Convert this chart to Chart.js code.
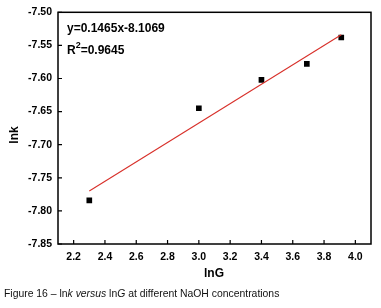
<!DOCTYPE html>
<html>
<head>
<meta charset="utf-8">
<script src="https://cdn.jsdelivr.net/npm/chart.js@4"></script>
<style>
  body { margin: 0; background: #fff; }
  #wrap { position: relative; width: 381px; height: 308px; }
  #caption {
    position: absolute; left: 4px; top: 288px;
    font: 10.4px "Liberation Sans", Arial, sans-serif; color: #111; white-space: nowrap;
  }
</style>
</head>
<body>
<div id="wrap">
  <canvas id="fig" width="381" height="308"></canvas>
  <div id="caption">Figure 16 – ln<i>k versus</i> ln<i>G</i> at different NaOH concentrations</div>
</div>
<script>
// measured points (lnG, lnk)
const lnG = [2.30, 3.00, 3.40, 3.69, 3.91];
const lnk = [-7.784, -7.645, -7.602, -7.578, -7.538];

// linear fit end points
const fitX = [2.30, 3.91];
const fitY = [-7.770, -7.534];

const xTicks = [2.2, 2.4, 2.6, 2.8, 3.0, 3.2, 3.4, 3.6, 3.8, 4.0];
const yTicks = [-7.50, -7.55, -7.60, -7.65, -7.70, -7.75, -7.80, -7.85];

const fitLabel = "y=0.1465x-8.1069";
const r2Label = "=0.9645";

const FONT = '"Liberation Sans", Arial, sans-serif';

const frame = {
    id: "frame",
    afterDraw(chart) {
        const { ctx, chartArea: a, scales } = chart;
        ctx.save();
        ctx.strokeStyle = "#000";
        ctx.lineWidth = 1.5;
        ctx.strokeRect(a.left, a.top, a.right - a.left, a.bottom - a.top);

        // inward ticks
        ctx.lineWidth = 1.2;
        ctx.beginPath();
        xTicks.forEach(v => {
            const x = scales.x.getPixelForValue(v);
            ctx.moveTo(x, a.bottom);
            ctx.lineTo(x, a.bottom - 4);
        });
        yTicks.forEach(v => {
            const y = scales.y.getPixelForValue(v);
            ctx.moveTo(a.left, y);
            ctx.lineTo(a.left + 4, y);
        });
        ctx.stroke();

        // axis titles
        ctx.fillStyle = "#000";
        ctx.font = "bold 12px " + FONT;
        ctx.textAlign = "center";
        ctx.textBaseline = "middle";
        ctx.fillText("lnG", 214, 274);
        ctx.save();
        ctx.translate(15, 135);
        ctx.rotate(-Math.PI / 2);
        ctx.fillText("lnk", 0, 0);
        ctx.restore();

        // fit annotation
        ctx.textAlign = "left";
        ctx.fillText(fitLabel, 67, 29);
        ctx.fillText("R", 67, 51);
        const rw = ctx.measureText("R").width;
        ctx.font = "bold 9px " + FONT;
        ctx.fillText("2", 67 + rw, 45.5);
        const sw = ctx.measureText("2").width;
        ctx.font = "bold 12px " + FONT;
        ctx.fillText(r2Label, 67 + rw + sw, 51);
        ctx.restore();
    }
};

new Chart(document.getElementById("fig"), {
    type: "scatter",
    data: {
        datasets: [
            {
                label: "fit",
                type: "line",
                data: fitX.map((x, i) => ({ x: x, y: fitY[i] })),
                borderColor: "#d8302a",
                borderWidth: 1.1,
                pointRadius: 0,
                fill: false
            },
            {
                label: "lnk",
                data: lnG.map((x, i) => ({ x: x, y: lnk[i] })),
                pointStyle: "rect",
                pointRadius: 4,
                backgroundColor: "#000",
                borderColor: "#000",
                borderWidth: 0
            }
        ]
    },
    options: {
        responsive: false,
        animation: false,
        layout: { padding: { top: 10, right: 10, left: 0, bottom: 0 } },
        plugins: { legend: { display: false }, tooltip: { enabled: false } },
        scales: {
            x: {
                type: "linear",
                min: 2.1,
                max: 4.1,
                afterBuildTicks: s => { s.ticks = xTicks.map(v => ({ value: v })); },
                afterFit: s => { s.height = 64; },
                grid: { display: false, drawTicks: false },
                border: { display: false },
                ticks: {
                    padding: 7,
                    color: "#000",
                    font: { family: FONT, size: 10.5, weight: "bold" },
                    callback: v => v.toFixed(1)
                }
            },
            y: {
                min: -7.85,
                max: -7.50,
                afterBuildTicks: s => { s.ticks = yTicks.map(v => ({ value: v })); },
                afterFit: s => { s.width = 58; },
                grid: { display: false, drawTicks: false },
                border: { display: false },
                ticks: {
                    padding: 6,
                    color: "#000",
                    font: { family: FONT, size: 10.5, weight: "bold" },
                    callback: v => v.toFixed(2)
                }
            }
        }
    },
    plugins: [frame]
});
</script>
</body>
</html>
